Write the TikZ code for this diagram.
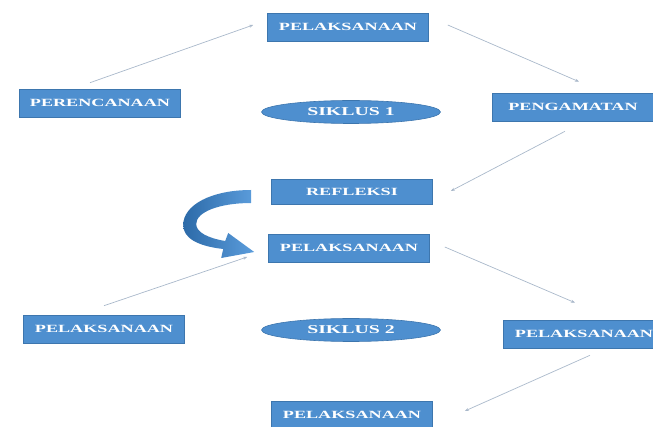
\documentclass[tikz,border=0pt]{standalone}
\usepackage{fontspec}
\setmainfont{Liberation Serif}
\usepackage{graphicx}
\usetikzlibrary{arrows.meta,shapes.geometric}

\definecolor{biru}{HTML}{4E8FCF}
\definecolor{garis}{HTML}{3D76AE}
\definecolor{alurwarna}{HTML}{A9B8CA}
\definecolor{birutua}{HTML}{2C6AA8}
\definecolor{birumuda}{HTML}{5C9DDC}
\newcommand{\teks}[1]{\scalebox{1.65}[1]{#1}}

\begin{document}
\begin{tikzpicture}[x=1pt, y=-1pt, >=Stealth,
    tahap/.style={draw=garis, line width=0.6pt, fill=biru, text=white, minimum width=161pt, minimum height=28pt, inner sep=0pt, font=\bfseries\fontsize{11}{11}\selectfont},
    siklus/.style={ellipse, draw=garis, line width=0.6pt, fill=biru, text=white, minimum width=179pt, minimum height=23pt, inner sep=0pt, font=\bfseries\fontsize{12}{12}\selectfont},
    alur/.style={->, draw=alurwarna, line width=0.7pt, arrows={-Stealth[length=4pt, width=3pt]}}]
    \useasboundingbox (0,0) rectangle (653,427);

    % siklus 1
    \node[tahap] (pel1)   at (348,27)  {\teks{PELAKSANAAN}};
    \node[tahap] (perenc) at (100,103) {\teks{PERENCANAAN}};
    \node[siklus] (sik1)  at (351,112) {\teks{SIKLUS 1}};
    \node[tahap] (peng)   at (573,107) {\teks{PENGAMATAN}};
    \node[tahap, minimum height=25pt] (refl) at (352,192) {\teks{REFLEKSI}};

    % siklus 2
    \node[tahap] (pel2)   at (349,248) {\teks{PELAKSANAAN}};
    \node[tahap] (pelL)   at (104,329) {\teks{PELAKSANAAN}};
    \node[siklus] (sik2)  at (351,330) {\teks{SIKLUS 2}};
    \node[tahap] (pelR)   at (584,334) {\teks{PELAKSANAAN}};
    \node[tahap] (pelB)   at (352,415) {\teks{PELAKSANAAN}};

    % alur siklus 1
    \draw[alur] ([xshift=-10pt,yshift=6pt]perenc.north) -- ([xshift=-14pt,yshift=2pt]pel1.west);
    \draw[alur] ([xshift=19pt,yshift=2pt]pel1.east) -- ([xshift=6pt,yshift=11pt]peng.north);
    \draw[alur] ([xshift=-8pt,yshift=-10pt]peng.south) -- ([xshift=18pt,yshift=1pt]refl.east);

    % alur siklus 2
    \draw[alur] ([yshift=9pt]pelL.north) -- ([xshift=-21pt,yshift=-9pt]pel2.west);
    \draw[alur] ([xshift=15pt,yshift=1pt]pel2.east) -- ([xshift=-9pt,yshift=17pt]pelR.north);
    \draw[alur] ([xshift=6pt,yshift=-7pt]pelR.south) -- ([xshift=32pt,yshift=4pt]pelB.east);

    % panah lengkung refleksi -> pelaksanaan
    \shade[shift={(refl.west)}, left color=birutua, right color=birumuda]
      (-20,-2) .. controls (-60,-2) and (-88,13) .. (-88,33)
      .. controls (-88,46) and (-74,54) .. (-48,57)
      -- (-50,66) -- (-17,60) -- (-43,41) -- (-46,49)
      .. controls (-64,46) and (-75,40) .. (-75,32)
      .. controls (-75,20) and (-52,11) .. (-20,11) -- cycle;
\end{tikzpicture}
\end{document}
